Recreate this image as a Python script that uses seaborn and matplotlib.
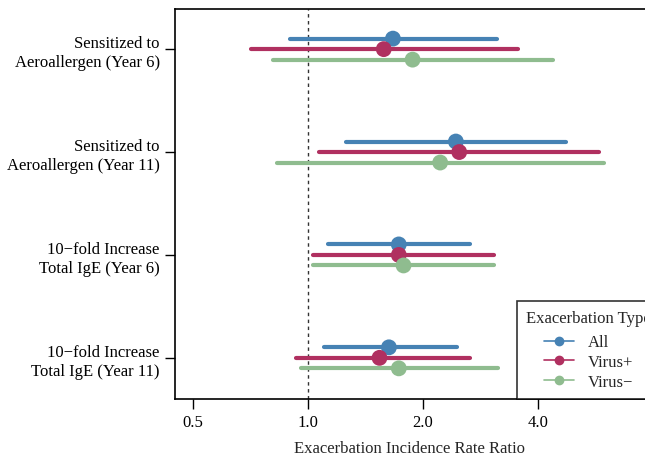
import matplotlib
matplotlib.use("Agg")
import matplotlib.pyplot as plt
from matplotlib.lines import Line2D
import seaborn as sns
import pandas as pd
import numpy as np

sns.set_theme(style="ticks")
plt.rcParams['font.family'] = ['Liberation Serif', 'DejaVu Serif']

predictors = ["Sensitized to\nAeroallergen (Year 6)",
              "Sensitized to\nAeroallergen (Year 11)",
              "10\u2212fold Increase\nTotal IgE (Year 6)",
              "10\u2212fold Increase\nTotal IgE (Year 11)"]
types = ["All", "Virus+", "Virus\u2212"]

# rate ratio estimates per predictor, per type (All, Virus+, Virus-)
est_all = [1.67, 2.44, 1.73, 1.63]
est_vpos = [1.58, 2.49, 1.73, 1.54]
est_vneg = [1.88, 2.22, 1.78, 1.73]
lo_all = [0.90, 1.26, 1.13, 1.10]
lo_vpos = [0.71, 1.07, 1.03, 0.93]
lo_vneg = [0.81, 0.83, 1.03, 0.96]
hi_all = [3.12, 4.73, 2.66, 2.46]
hi_vpos = [3.55, 5.77, 3.07, 2.66]
hi_vneg = [4.39, 5.97, 3.07, 3.15]

xticks = [0.5, 1.0, 2.0, 4.0]
xticklabels = ["0.5", "1.0", "2.0", "4.0"]

colors = {"All": "#4682B4", "Virus+": "#B03060", "Virus\u2212": "#8FBC8F"}
offsets = {"All": -0.102, "Virus+": 0.0, "Virus\u2212": 0.102}

rows = []
for t, e, l, h in zip(types, [est_all, est_vpos, est_vneg],
                      [lo_all, lo_vpos, lo_vneg], [hi_all, hi_vpos, hi_vneg]):
    for i, p in enumerate(predictors):
        rows.append(dict(predictor=p, type=t, est=e[i], lo=l[i], hi=h[i],
                         y=i + offsets[t]))
df = pd.DataFrame(rows)

fig = plt.figure(figsize=(6.45, 4.56), dpi=100)
ax = fig.add_axes([175/645, 56/456, (645-175)/645, 390/456])

ax.axvline(1.0, color="#333333", lw=1.0, ls=(0, (2.5, 2.5)), zorder=1)
for t in types:
    sub = df[df.type == t]
    ax.hlines(sub.y, sub.lo, sub.hi, color=colors[t], lw=3, zorder=2,
              capstyle="round")
sns.scatterplot(data=df, x="est", y="y", hue="type", palette=colors,
                s=130, edgecolor="none", legend=False, ax=ax, zorder=3)

ax.set_xscale("log")
ax.set_xlim(0.449, 7.63)
ax.set_ylim(3.4, -0.39)
ax.set_xticks(xticks)
ax.set_xticklabels(xticklabels)
ax.xaxis.set_minor_locator(matplotlib.ticker.NullLocator())
ax.set_yticks(range(len(predictors)))
ax.set_yticklabels(predictors, ha="right", multialignment="right",
                   linespacing=1.25)
ax.tick_params(axis="both", labelsize=12, length=7, width=1, color="black",
               labelcolor="black", pad=4)
ax.set_xlabel("Exacerbation Incidence Rate Ratio", fontsize=12, labelpad=7)
ax.set_ylabel("")
for s in ["left", "bottom", "top"]:
    ax.spines[s].set_color("black")
    ax.spines[s].set_linewidth(1.2)
ax.spines["right"].set_visible(False)

handles = [Line2D([0], [0], color=colors[t], lw=1.2, marker="o",
                  markersize=6) for t in types]
leg = fig.legend(handles, types, title="Exacerbation Type",
                 loc="lower left", bbox_to_anchor=(517/645, 56/456),
                 borderaxespad=0, fontsize=12, title_fontsize=12,
                 frameon=True, fancybox=False, handlelength=1.8,
                 handletextpad=0.8, labelspacing=0.22, borderpad=0.55)
leg._legend_box.sep = 0.22 * 12 + 3.5
leg.get_frame().set_edgecolor("black")
leg.get_frame().set_linewidth(1.2)

fig.savefig("out.png", dpi=100)
